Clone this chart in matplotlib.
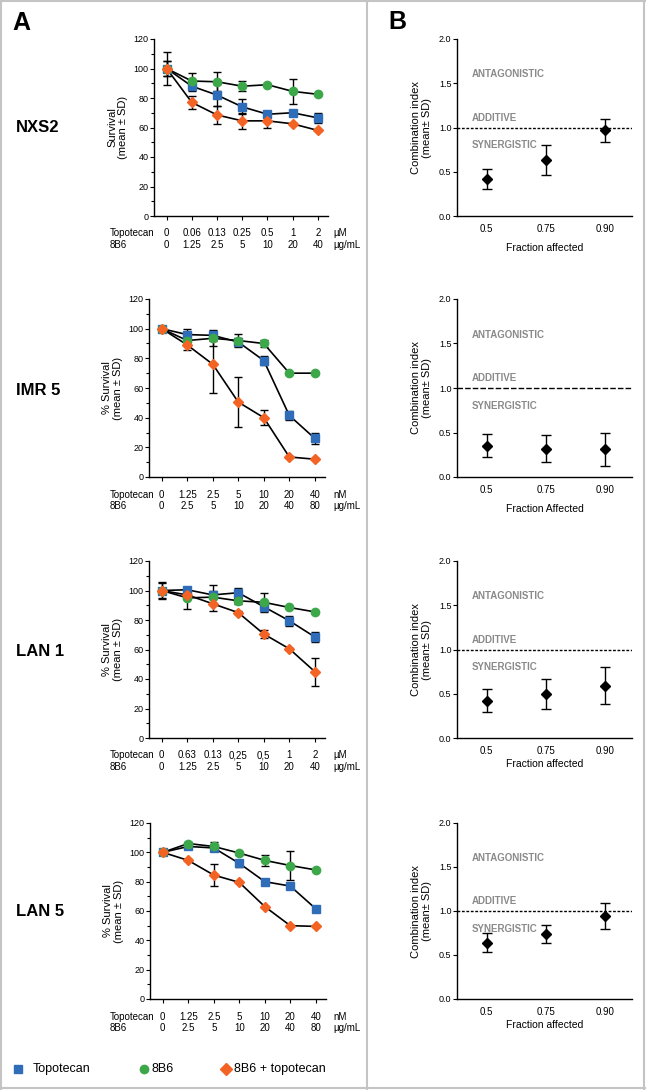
import matplotlib
matplotlib.use("Agg")
import matplotlib.pyplot as plt
from matplotlib.lines import Line2D

plt.rcParams['font.family'] = ['Liberation Sans', 'DejaVu Sans']

W, H = 646, 1090

# ---- data -------------------------------------------------------------
cell_lines = ["NXS2", "IMR 5", "LAN 1", "LAN 5"]

topo_ticks = [
    ["0", "0.06", "0.13", "0.25", "0.5", "1", "2"],
    ["0", "1.25", "2.5", "5", "10", "20", "40"],
    ["0", "0.63", "0.13", "0,25", "0,5", "1", "2"],
    ["0", "1.25", "2.5", "5", "10", "20", "40"],
]
ab_ticks = [
    ["0", "1.25", "2.5", "5", "10", "20", "40"],
    ["0", "2.5", "5", "10", "20", "40", "80"],
    ["0", "1.25", "2.5", "5", "10", "20", "40"],
    ["0", "2.5", "5", "10", "20", "40", "80"],
]
topo_units = ["µM", "nM", "µM", "nM"]

topo_mean = [
    [100, 88, 82, 74, 69, 70, 66.5],
    [100, 96, 95.5, 91, 78.5, 41.5, 26],
    [100, 100.5, 97, 98.5, 89, 79.5, 68.5],
    [100, 104, 103, 92.5, 80, 77, 61.5],
]
topo_sd = [
    [5, 3, 7.5, 5, 2.5, 1.5, 3.5],
    [1, 3.5, 3.5, 3, 3, 3, 3.5],
    [5, 2, 7, 3.5, 3.5, 3.5, 3.5],
    [0.5, 1, 1, 2.5, 0.5, 0.5, 0.5],
]
ab_mean = [
    [100, 91.5, 91, 88, 89, 84.5, 82.5],
    [100, 92, 93.5, 92, 90, 70, 70],
    [100, 95, 95.5, 93, 92, 88.5, 85.5],
    [100, 106, 104, 99.5, 94.5, 91, 88],
]
ab_sd = [
    [11, 5.5, 6.5, 3.5, 0.5, 8.5, 0.5],
    [0.5, 1, 5, 4.5, 2.5, 0.5, 0.5],
    [5.5, 7.5, 4, 2, 6, 0.5, 0.5],
    [0.5, 1, 3, 1, 3.5, 10, 0.5],
]
combo_mean = [
    [100, 77, 68.5, 64.5, 64.5, 62.5, 58],
    [100, 89, 76, 50.5, 40, 13.5, 12],
    [100, 97, 91, 85, 70.5, 60.5, 45],
    [100, 94.5, 84.5, 79.5, 63, 50, 49.5],
]
combo_sd = [
    [5, 4.5, 6, 5.5, 4.5, 0.5, 0.5],
    [0.5, 3.5, 19.5, 17, 5, 0.5, 0.5],
    [1, 1, 5, 1, 3, 0.5, 9.5],
    [0.5, 0.5, 7.5, 0.5, 0.5, 0.5, 0.5],
]

fa_labels = ["0.5", "0.75", "0.90"]
ci_mean = [
    [0.42, 0.63, 0.97],
    [0.35, 0.32, 0.31],
    [0.42, 0.50, 0.59],
    [0.64, 0.74, 0.94],
]
ci_sd = [
    [0.11, 0.17, 0.13],
    [0.13, 0.15, 0.185],
    [0.13, 0.17, 0.21],
    [0.11, 0.10, 0.15],
]

# ---- style ------------------------------------------------------------
BLUE = "#2f6db8"
GREEN = "#3da84a"
ORANGE = "#f26324"
GREY_TXT = "#8a8a8a"
FRAME = "#c4c4c4"

# panel geometry in pixels: (top, bottom) of each row
rows = [(39, 216), (299, 477), (561, 738), (823, 999)]
left_x = [(154, 328), (149, 325), (149, 325), (150, 326)]
right_x = (457, 632)
ylabels_left = ["Survival\n(mean ± SD)"] + ["% Survival\n(mean ± SD)"] * 3
fa_titles = ["Fraction affected", "Fraction Affected", "Fraction affected", "Fraction affected"]
fa_pads = [6, 6, 2, 2]
ci_line_style = [(0, (2, 1.2)), (0, (4, 1.5)), (0, (2, 1.2)), (0, (2, 1.2))]
label_y = [128, 390, 652, 912]


def rect(x0, x1, yt, yb):
    return [x0 / W, 1 - yb / H, (x1 - x0) / W, (yb - yt) / H]


fig = plt.figure(figsize=(W / 100, H / 100), dpi=100)

for i in range(4):
    yt, yb = rows[i]

    # ---- left: dose response ----
    ax = fig.add_axes(rect(left_x[i][0], left_x[i][1], yt, yb))
    x = list(range(7))
    series = [
        (topo_mean[i], topo_sd[i], BLUE, "s", 5.5),
        (ab_mean[i], ab_sd[i], GREEN, "o", 6),
        (combo_mean[i], combo_sd[i], ORANGE, "D", 5.5),
    ]
    for m, s, c, mk, ms in series:
        ax.errorbar(x, m, yerr=s, color="black", lw=1.2, capsize=3,
                    capthick=1, elinewidth=1, zorder=2)
        ax.plot(x, m, ls="none", marker=mk, ms=ms, color=c, mec=c, zorder=3)
    ax.set_xlim(-0.5, 6.4)
    ax.set_ylim(0, 120)
    ax.set_yticks(range(0, 121, 20))
    ax.set_yticks(range(10, 120, 20), minor=True)
    ax.set_xticks(x)
    ax.set_xticklabels([a + "\n" + b for a, b in zip(topo_ticks[i], ab_ticks[i])])
    for sp in ["top", "right"]:
        ax.spines[sp].set_visible(False)
    for sp in ["left", "bottom"]:
        ax.spines[sp].set_linewidth(1)
    ax.tick_params(axis="y", labelsize=6.5, length=3, width=0.8, pad=1)
    ax.tick_params(axis="y", which="minor", length=2, width=0.8)
    ax.tick_params(axis="x", labelsize=7, length=3, width=0.8, pad=6)
    ax.set_ylabel(ylabels_left[i], fontsize=8, labelpad=4, linespacing=1.1)
    ax.annotate("Topotecan\n8B6", xy=(110 / W, 0),
                xycoords=("figure fraction", "axes fraction"),
                xytext=(0, -9), textcoords="offset points",
                ha="left", va="top", fontsize=7)
    ax.annotate(topo_units[i] + "\nµg/mL", xy=(333 / W, 0),
                xycoords=("figure fraction", "axes fraction"),
                xytext=(0, -9), textcoords="offset points",
                ha="left", va="top", fontsize=7)

    fig.text(16 / W, 1 - label_y[i] / H, cell_lines[i], fontsize=12,
             fontweight="bold", ha="left", va="center")

    # ---- right: combination index ----
    bx = fig.add_axes(rect(right_x[0], right_x[1], yt, yb))
    fx = [1, 2, 3]
    bx.errorbar(fx, ci_mean[i], yerr=ci_sd[i], ls="none", marker="D", ms=5.5,
                color="black", capsize=3.5, capthick=1, elinewidth=1)
    bx.axhline(1.0, color="black", lw=1, ls=ci_line_style[i])
    bx.set_xlim(0.5, 3.45)
    bx.set_ylim(0, 2.0)
    bx.set_yticks([0, 0.5, 1.0, 1.5, 2.0])
    bx.set_yticklabels(["0.0", "0.5", "1.0", "1.5", "2.0"])
    bx.set_xticks(fx)
    bx.set_xticklabels(fa_labels)
    for sp in ["top", "right"]:
        bx.spines[sp].set_visible(False)
    for sp in ["left", "bottom"]:
        bx.spines[sp].set_linewidth(1)
    bx.tick_params(axis="y", labelsize=6.5, length=3, width=0.8, pad=1)
    bx.tick_params(axis="x", labelsize=7, length=0, pad=6)
    bx.set_ylabel("Combination index\n(mean± SD)", fontsize=8, labelpad=5,
                  linespacing=1.1)
    bx.set_xlabel(fa_titles[i], fontsize=7.5, labelpad=fa_pads[i])
    for txt, yy in [("ANTAGONISTIC", 1.6), ("ADDITIVE", 1.11), ("SYNERGISTIC", 0.80)]:
        bx.text(0.75, yy, txt, color=GREY_TXT, fontsize=7, fontweight="bold",
                ha="left", va="center")

# panel letters
fig.text(12 / W, 1 - 23 / H, "A", fontsize=18, fontweight="bold", va="center")
fig.text(388 / W, 1 - 22 / H, "B", fontsize=18, fontweight="bold", va="center")

# legend
leg_y = 1 - 1069 / H
legend_items = [("Topotecan", BLUE, "s", 18, 33),
                ("8B6", GREEN, "o", 144, 152),
                ("8B6 + topotecan", ORANGE, "D", 226, 234)]
for name, c, mk, mx, tx in legend_items:
    fig.add_artist(Line2D([mx / W], [leg_y], marker=mk, ms=6, color=c,
                          mec=c, ls="none", transform=fig.transFigure))
    fig.text(tx / W, leg_y, name, fontsize=9, va="center", ha="left")

# frame and divider
frame_lines = [
    ([1 / W, 1 / W], [0, 1]),
    ([644 / W, 644 / W], [0, 1]),
    ([0, 1], [1 - 0.8 / H, 1 - 0.8 / H]),
    ([0, 1], [1 - 1088 / H, 1 - 1088 / H]),
    ([367 / W, 367 / W], [0, 1]),
]
for xs, ys in frame_lines:
    fig.add_artist(Line2D(xs, ys, color=FRAME, lw=1.5, transform=fig.transFigure))

fig.savefig("out.png", dpi=100)
